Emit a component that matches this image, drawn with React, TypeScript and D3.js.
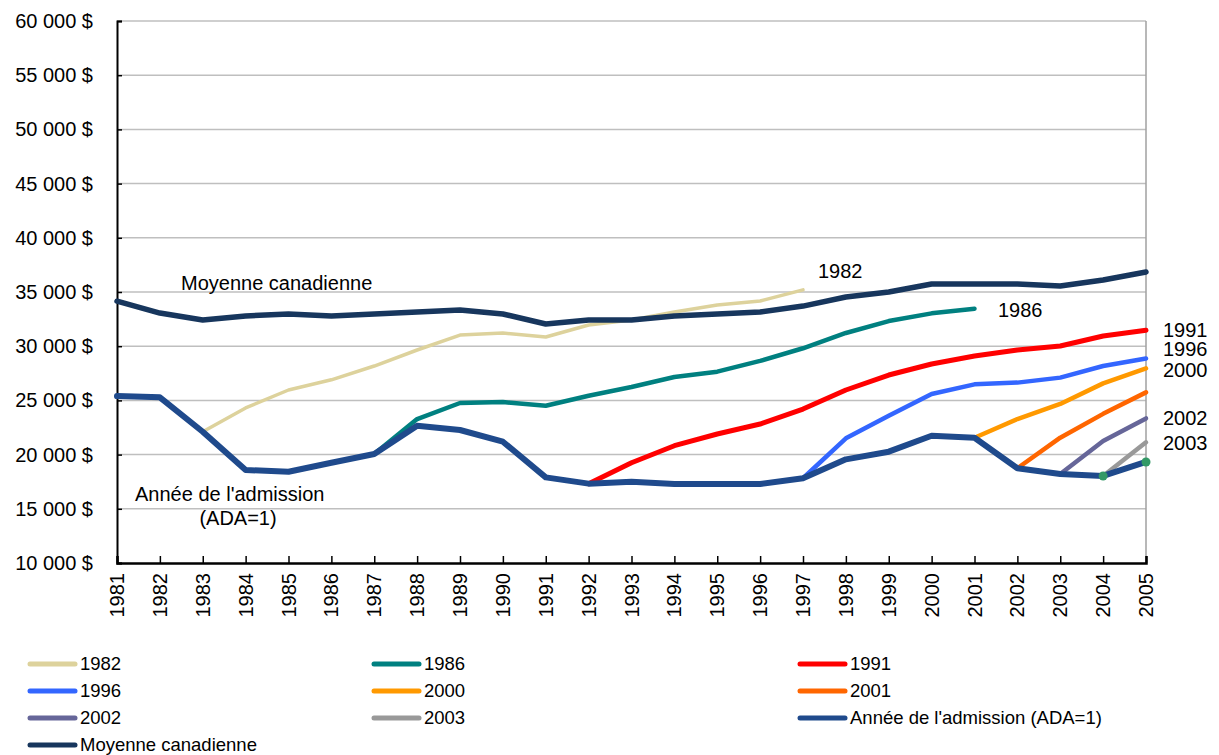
import React, { useEffect, useRef } from "react";
import * as d3 from "d3";

const years = [
  1981, 1982, 1983, 1984, 1985, 1986, 1987, 1988, 1989, 1990, 1991, 1992, 1993,
  1994, 1995, 1996, 1997, 1998, 1999, 2000, 2001, 2002, 2003, 2004, 2005,
];

const yTicks = [10000, 15000, 20000, 25000, 30000, 35000, 40000, 45000, 50000, 55000, 60000];

type V = number | null;
const _ = null;

const moyenne: V[] = [
  34150, 33060, 32420, 32790, 32970, 32790, 32970, 33150, 33340, 32970, 32050, 32420, 32420,
  32790, 32970, 33150, 33700, 34540, 35000, 35740, 35740, 35740, 35550, 36100, 36850,
];
const admission: V[] = [
  25400, 25280, 22110, 18580, 18420, 19250, 20050, 22670, 22270, 21190, 17900, 17320, 17500,
  17290, 17290, 17290, 17820, 19560, 20270, 21740, 21560, 18740, 18210, 18030, 19320,
];
const c1982: V[] = [
  _, _, 22110, 24300, 25960, 26900, 28170, 29650, 31030, 31220, 30850, 31960, 32420,
  33150, 33800, 34170, 35200, _, _, _, _, _, _, _, _,
];
const c1986: V[] = [
  _, _, _, _, _, _, 20050, 23280, 24760, 24850, 24510, 25430, 26240,
  27160, 27650, 28640, 29810, 31220, 32320, 33030, 33460, _, _, _, _,
];
const c1991: V[] = [
  _, _, _, _, _, _, _, _, _, _, _, 17320, 19250,
  20820, 21900, 22820, 24200, 25960, 27340, 28360, 29100, 29650, 30020, 30940, 31470,
];
const c1996: V[] = [
  _, _, _, _, _, _, _, _, _, _, _, _, _,
  _, _, _, 17820, 21500, 23590, 25590, 26480, 26640, 27100, 28170, 28870,
];
const c2000: V[] = [
  _, _, _, _, _, _, _, _, _, _, _, _, _,
  _, _, _, _, _, _, _, 21560, 23280, 24670, 26570, 27950,
];
const c2001: V[] = [
  _, _, _, _, _, _, _, _, _, _, _, _, _,
  _, _, _, _, _, _, _, _, 18740, 21560, 23760, 25740,
];
const c2002: V[] = [
  _, _, _, _, _, _, _, _, _, _, _, _, _,
  _, _, _, _, _, _, _, _, _, 18210, 21250, 23340,
];
const c2003: V[] = [
  _, _, _, _, _, _, _, _, _, _, _, _, _,
  _, _, _, _, _, _, _, _, _, _, 18030, 21130,
];
// green markers at the end of the admission line
const c2004: V[] = [
  _, _, _, _, _, _, _, _, _, _, _, _, _,
  _, _, _, _, _, _, _, _, _, _, 18030, 19320,
];

interface Series {
  name: string;
  values: V[];
  color: string;
  width: number;
  label?: string;
  labelX?: number;
  labelY?: number;
}

const cohorts: Series[] = [
  { name: "1982", values: c1982, color: "#DDD29C", width: 3.5, label: "1982", labelX: 818, labelY: 271 },
  { name: "1986", values: c1986, color: "#008080", width: 4.5, label: "1986", labelX: 998, labelY: 310 },
  { name: "1991", values: c1991, color: "#FF0000", width: 5, label: "1991", labelX: 1163, labelY: 330 },
  { name: "1996", values: c1996, color: "#3366FF", width: 4.5, label: "1996", labelX: 1163, labelY: 349 },
  { name: "2000", values: c2000, color: "#FF9900", width: 4.5, label: "2000", labelX: 1163, labelY: 370 },
  { name: "2001", values: c2001, color: "#FF6600", width: 4.5 },
  { name: "2002", values: c2002, color: "#666699", width: 4.5, label: "2002", labelX: 1163, labelY: 418 },
  { name: "2003", values: c2003, color: "#999999", width: 4.5, label: "2003", labelX: 1163, labelY: 443 },
];
const admSeries: Series = { name: "Année de l'admission (ADA=1)", values: admission, color: "#1F4A8C", width: 6 };
const moySeries: Series = { name: "Moyenne canadienne", values: moyenne, color: "#17365D", width: 5.5 };

const legendOrder = [...cohorts, admSeries, moySeries];

const W = 1219;
const H = 755;
const FONT = "'Liberation Sans', Arial, sans-serif";

export default function App() {
  const svgRef = useRef<SVGSVGElement>(null);

  useEffect(() => {
    if (!svgRef.current) return;
    const svg = d3.select(svgRef.current);
    svg.selectAll("*").remove();

    const x = d3.scaleLinear().domain([1981, 2005]).range([117, 1146]);
    const y = d3.scaleLinear().domain([10000, 60000]).range([563, 21]);

    // grid
    svg
      .append("g")
      .selectAll("line")
      .data(yTicks.slice(1))
      .join("line")
      .attr("x1", x(1981))
      .attr("x2", x(2005))
      .attr("y1", (d) => y(d))
      .attr("y2", (d) => y(d))
      .attr("stroke", "#BFBFBF")
      .attr("stroke-width", 1.5);
    // right border
    svg
      .append("line")
      .attr("x1", x(2005))
      .attr("x2", x(2005))
      .attr("y1", y(60000))
      .attr("y2", y(10000))
      .attr("stroke", "#A0A0A0")
      .attr("stroke-width", 1.5);

    // y axis
    const yAxis = svg
      .append("g")
      .attr("transform", `translate(${x(1981)},0)`)
      .call(d3.axisRight(y).tickValues(yTicks).tickSize(5).tickFormat(() => ""));
    yAxis.select(".domain").attr("stroke", "#000").attr("stroke-width", 2);
    yAxis.selectAll(".tick line").attr("stroke", "#000").attr("stroke-width", 1.5);

    svg
      .append("g")
      .selectAll("text")
      .data(yTicks)
      .join("text")
      .attr("x", 93)
      .attr("y", (d) => y(d))
      .attr("dy", "0.35em")
      .attr("text-anchor", "end")
      .attr("font-family", FONT)
      .attr("font-size", 20)
      .attr("fill", "#000")
      .text((d) => `${d3.format(",")(d).replace(",", " ")} $`);

    // x axis
    const xAxis = svg
      .append("g")
      .attr("transform", `translate(0,${y(10000)})`)
      .call(d3.axisTop(x).tickValues(years).tickSize(7).tickFormat(() => ""));
    xAxis.select(".domain").attr("stroke", "#000").attr("stroke-width", 2.5);
    xAxis.selectAll(".tick line").attr("stroke", "#000").attr("stroke-width", 1.5);

    svg
      .append("g")
      .selectAll("text")
      .data(years)
      .join("text")
      .attr("transform", (d) => `translate(${x(d) + 7},573) rotate(-90)`)
      .attr("text-anchor", "end")
      .attr("font-family", FONT)
      .attr("font-size", 20)
      .attr("fill", "#000")
      .text((d) => String(d));

    const line = d3
      .line<V>()
      .defined((d) => d !== null)
      .x((_d, i) => x(years[i]))
      .y((d) => y(d as number));

    const drawSeries = (s: Series) => {
      svg
        .append("path")
        .attr("d", line(s.values))
        .attr("fill", "none")
        .attr("stroke", s.color)
        .attr("stroke-width", s.width)
        .attr("stroke-linejoin", "round")
        .attr("stroke-linecap", "round");
    };

    cohorts.forEach(drawSeries);
    drawSeries(admSeries);
    drawSeries(moySeries);

    // green markers
    svg
      .append("g")
      .selectAll("circle")
      .data(c2004.map((v, i) => ({ v, yr: years[i] })).filter((d) => d.v !== null))
      .join("circle")
      .attr("cx", (d) => x(d.yr))
      .attr("cy", (d) => y(d.v as number))
      .attr("r", 4.5)
      .attr("fill", "#339966");

    // series labels
    const labels = svg.append("g").attr("font-family", FONT).attr("font-size", 20).attr("fill", "#000");
    cohorts
      .filter((s) => s.label)
      .forEach((s) => {
        labels
          .append("text")
          .attr("x", s.labelX!)
          .attr("y", s.labelY!)
          .attr("dy", "0.35em")
          .text(s.label!);
      });
    labels.append("text").attr("x", 181).attr("y", 283).attr("dy", "0.35em").text("Moyenne canadienne");
    labels.append("text").attr("x", 135).attr("y", 494).attr("dy", "0.35em").text("Année de l'admission");
    labels
      .append("text")
      .attr("x", 238)
      .attr("y", 518)
      .attr("dy", "0.35em")
      .attr("text-anchor", "middle")
      .text("(ADA=1)");

    // legend
    const colX = [30, 374, 800];
    const rowY = [664, 691, 718, 745];
    const legend = svg.append("g").attr("font-family", FONT).attr("font-size", 18.5);
    legendOrder.forEach((s, i) => {
      const cx = colX[i % 3];
      const cy = rowY[Math.floor(i / 3)];
      legend
        .append("line")
        .attr("x1", cx)
        .attr("x2", cx + 45)
        .attr("y1", cy)
        .attr("y2", cy)
        .attr("stroke", s.color)
        .attr("stroke-width", 5)
        .attr("stroke-linecap", "round");
      legend
        .append("text")
        .attr("x", cx + 50)
        .attr("y", cy)
        .attr("dy", "0.35em")
        .attr("fill", "#000")
        .text(s.name);
    });
  }, []);

  return (
    <div style={{ position: "absolute", left: 0, top: 0, width: W, height: H, background: "#fff" }}>
      <svg ref={svgRef} width={W} height={H} style={{ display: "block" }} />
    </div>
  );
}
